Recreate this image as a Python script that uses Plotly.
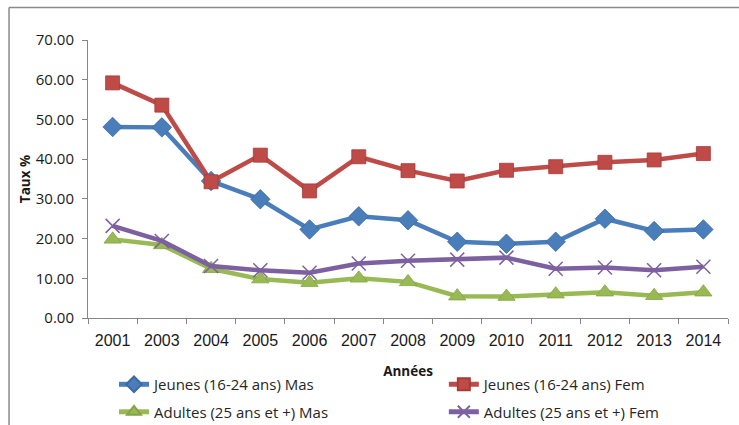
import plotly.graph_objects as go

years = ["2001", "2003", "2004", "2005", "2006", "2007", "2008", "2009", "2010", "2011", "2012", "2013", "2014"]
jeunes_mas = [48.1, 48.0, 34.5, 29.9, 22.3, 25.6, 24.6, 19.2, 18.7, 19.2, 25.0, 21.9, 22.3]
jeunes_fem = [59.2, 53.6, 34.3, 41.0, 32.0, 40.6, 37.1, 34.5, 37.2, 38.1, 39.2, 39.8, 41.4]
adultes_mas = [19.8, 18.4, 12.4, 9.8, 8.9, 10.0, 9.1, 5.5, 5.4, 6.0, 6.5, 5.6, 6.5]
adultes_fem = [23.2, 19.4, 13.1, 12.0, 11.4, 13.7, 14.4, 14.7, 15.2, 12.4, 12.7, 12.0, 12.9]
y_ticks = [0, 10, 20, 30, 40, 50, 60, 70]

series = [
    ("Jeunes (16-24 ans) Mas", jeunes_mas, "#4A7EBB", "diamond", 15, "#3C6AA3", "legend"),
    ("Jeunes (16-24 ans) Fem", jeunes_fem, "#BE4B48", "square", 14, "#A83A37", "legend2"),
    ("Adultes (25 ans et +) Mas", adultes_mas, "#98B954", "triangle-up", 15, "#83A443", "legend"),
    ("Adultes (25 ans et +) Fem", adultes_fem, "#7D60A0", "x-thin", 14, "#7D60A0", "legend2"),
]

fig = go.Figure()
for i, (name, vals, color, sym, size, edge, lg) in enumerate(series):
    marker = dict(symbol=sym, size=size, color=color)
    if sym == "x-thin":
        marker["line"] = dict(width=1.5, color=edge)
    else:
        marker["line"] = dict(width=0.8, color=edge)
    fig.add_trace(go.Scatter(
        x=years, y=vals, name=name, mode="lines+markers",
        line=dict(color=color, width=4.5),
        marker=marker, legend=lg, legendgroup="g%d" % i,
    ))

legend_font = dict(family="Open Sans", size=15, color="#262626")
fig.update_layout(
    width=739, height=425, autosize=False,
    margin=dict(l=88, r=11, t=40, b=107, autoexpand=False),
    paper_bgcolor="white", plot_bgcolor="white",
    showlegend=True,
    legend=dict(
        orientation="v", x=0.0406, xanchor="left", y=-0.18, yanchor="top",
        font=legend_font, itemsizing="constant", tracegroupgap=5,
        bgcolor="rgba(0,0,0,0)",
    ),
    legend2=dict(
        orientation="v", x=0.556, xanchor="left", y=-0.18, yanchor="top",
        font=legend_font, itemsizing="constant", tracegroupgap=5,
        bgcolor="rgba(0,0,0,0)",
    ),
    xaxis=dict(
        type="category", categoryorder="array", categoryarray=years,
        range=[-0.5, len(years) - 0.5],
        showline=True, linecolor="#868686", linewidth=1,
        ticks="outside", tickson="boundaries", ticklen=5, tickcolor="#868686",
        ticklabelstandoff=8, automargin=False,
        showgrid=False, zeroline=False,
        tickfont=dict(family="Liberation Sans", size=16, color="#1a1a1a"),
        title=dict(text="<b>Années</b>", font=dict(family="Open Sans", size=13.5, color="#1a1a1a"), standoff=18),
    ),
    yaxis=dict(
        range=[0, 70], tickvals=y_ticks, tickformat=".2f",
        showline=True, linecolor="#868686", linewidth=1,
        ticks="outside", ticklen=5, tickcolor="#868686",
        ticklabelstandoff=5, automargin=False,
        showgrid=False, zeroline=False,
        tickfont=dict(family="Open Sans", size=15, color="#1a1a1a"),
        title=dict(text="<b>Taux %</b>", font=dict(family="Open Sans", size=13.5, color="#1a1a1a"), standoff=2),
    ),
    shapes=[
        dict(type="line", xref="paper", yref="paper", x0=-0.1234, x1=1.1, y0=1.1169, y1=1.1169,
             line=dict(color="#8a8a8a", width=1.5)),
        dict(type="line", xref="paper", yref="paper", x0=-0.1234, x1=-0.1234, y0=1.1169, y1=-0.6,
             line=dict(color="#8a8a8a", width=1.5)),
    ],
)

fig.write_html(
    "out.html",
    config={"responsive": False, "displayModeBar": False},
    post_script="document.body.style.margin='0';document.body.style.overflow='hidden';",
)
